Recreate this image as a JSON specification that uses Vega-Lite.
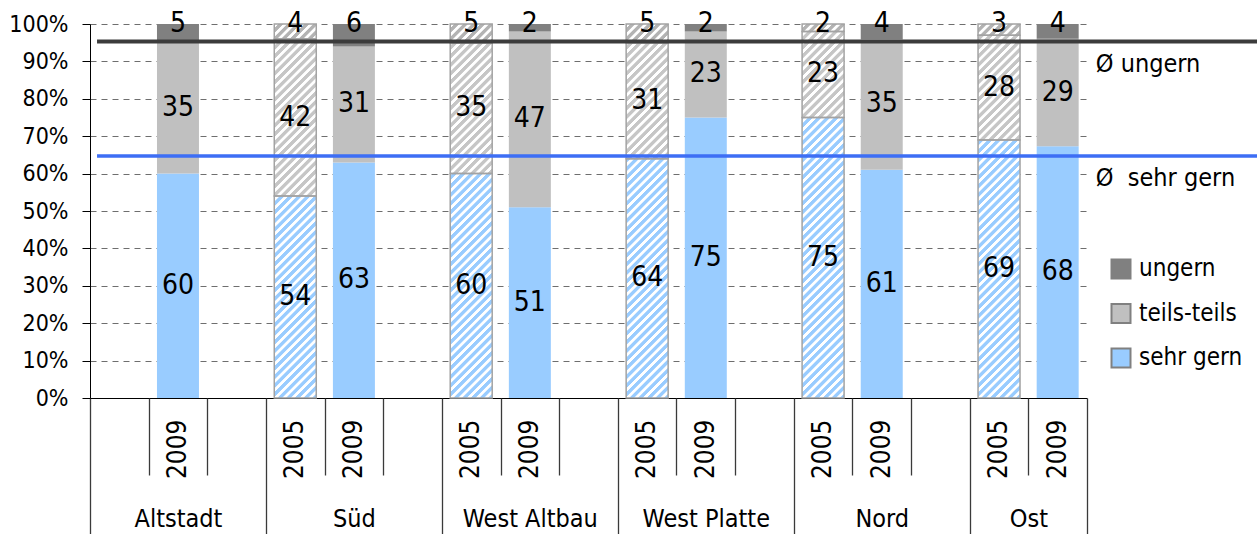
{
  "$schema": "https://vega.github.io/schema/vega-lite/v6.json",
  "width": 997,
  "height": 374,
  "autosize": {"type": "none"},
  "padding": {"left": 90, "top": 24, "right": 170, "bottom": 136},
  "config": {
    "view": {"stroke": null},
    "font": "Liberation Sans Narrow, DejaVu Sans Condensed, sans-serif",
    "axis": {"labelColor": "black", "labelFont": "Liberation Sans Narrow, DejaVu Sans Condensed, sans-serif"},
    "text": {"font": "Liberation Sans Narrow, DejaVu Sans Condensed, sans-serif", "color": "black"}
  },
  "data": {
    "values": [
      {"bezirk": "Altstadt", "jahr": "2009", "slot": "Altstadt 2009", "kat": "sehr gern", "v": 60},
      {"bezirk": "Altstadt", "jahr": "2009", "slot": "Altstadt 2009", "kat": "teils-teils", "v": 35},
      {"bezirk": "Altstadt", "jahr": "2009", "slot": "Altstadt 2009", "kat": "ungern", "v": 5},
      {"bezirk": "Süd", "jahr": "2005", "slot": "Süd 2005", "kat": "sehr gern", "v": 54},
      {"bezirk": "Süd", "jahr": "2005", "slot": "Süd 2005", "kat": "teils-teils", "v": 42},
      {"bezirk": "Süd", "jahr": "2005", "slot": "Süd 2005", "kat": "ungern", "v": 4},
      {"bezirk": "Süd", "jahr": "2009", "slot": "Süd 2009", "kat": "sehr gern", "v": 63},
      {"bezirk": "Süd", "jahr": "2009", "slot": "Süd 2009", "kat": "teils-teils", "v": 31},
      {"bezirk": "Süd", "jahr": "2009", "slot": "Süd 2009", "kat": "ungern", "v": 6},
      {"bezirk": "West Altbau", "jahr": "2005", "slot": "West Altbau 2005", "kat": "sehr gern", "v": 60},
      {"bezirk": "West Altbau", "jahr": "2005", "slot": "West Altbau 2005", "kat": "teils-teils", "v": 35},
      {"bezirk": "West Altbau", "jahr": "2005", "slot": "West Altbau 2005", "kat": "ungern", "v": 5},
      {"bezirk": "West Altbau", "jahr": "2009", "slot": "West Altbau 2009", "kat": "sehr gern", "v": 51},
      {"bezirk": "West Altbau", "jahr": "2009", "slot": "West Altbau 2009", "kat": "teils-teils", "v": 47},
      {"bezirk": "West Altbau", "jahr": "2009", "slot": "West Altbau 2009", "kat": "ungern", "v": 2},
      {"bezirk": "West Platte", "jahr": "2005", "slot": "West Platte 2005", "kat": "sehr gern", "v": 64},
      {"bezirk": "West Platte", "jahr": "2005", "slot": "West Platte 2005", "kat": "teils-teils", "v": 31},
      {"bezirk": "West Platte", "jahr": "2005", "slot": "West Platte 2005", "kat": "ungern", "v": 5},
      {"bezirk": "West Platte", "jahr": "2009", "slot": "West Platte 2009", "kat": "sehr gern", "v": 75},
      {"bezirk": "West Platte", "jahr": "2009", "slot": "West Platte 2009", "kat": "teils-teils", "v": 23},
      {"bezirk": "West Platte", "jahr": "2009", "slot": "West Platte 2009", "kat": "ungern", "v": 2},
      {"bezirk": "Nord", "jahr": "2005", "slot": "Nord 2005", "kat": "sehr gern", "v": 75},
      {"bezirk": "Nord", "jahr": "2005", "slot": "Nord 2005", "kat": "teils-teils", "v": 23},
      {"bezirk": "Nord", "jahr": "2005", "slot": "Nord 2005", "kat": "ungern", "v": 2},
      {"bezirk": "Nord", "jahr": "2009", "slot": "Nord 2009", "kat": "sehr gern", "v": 61},
      {"bezirk": "Nord", "jahr": "2009", "slot": "Nord 2009", "kat": "teils-teils", "v": 35},
      {"bezirk": "Nord", "jahr": "2009", "slot": "Nord 2009", "kat": "ungern", "v": 4},
      {"bezirk": "Ost", "jahr": "2005", "slot": "Ost 2005", "kat": "sehr gern", "v": 69},
      {"bezirk": "Ost", "jahr": "2005", "slot": "Ost 2005", "kat": "teils-teils", "v": 28},
      {"bezirk": "Ost", "jahr": "2005", "slot": "Ost 2005", "kat": "ungern", "v": 3},
      {"bezirk": "Ost", "jahr": "2009", "slot": "Ost 2009", "kat": "sehr gern", "v": 68},
      {"bezirk": "Ost", "jahr": "2009", "slot": "Ost 2009", "kat": "teils-teils", "v": 29},
      {"bezirk": "Ost", "jahr": "2009", "slot": "Ost 2009", "kat": "ungern", "v": 4}
    ]
  },
  "layer": [
    {
      "layer": [
        {
          "mark": {"type": "bar"},
          "encoding": {
            "x": {
              "field": "slot", "type": "nominal",
              "scale": {
                "domain": ["Altstadt 2005", "Altstadt 2009", "·1", "Süd 2005", "Süd 2009", "·2", "West Altbau 2005", "West Altbau 2009", "·3", "West Platte 2005", "West Platte 2009", "·4", "Nord 2005", "Nord 2009", "·5", "Ost 2005", "Ost 2009"],
                "paddingInner": 0.284, "paddingOuter": 0.142
              },
              "axis": {
                "orient": "bottom", "title": null, "ticks": false, "grid": false,
                "domainColor": "black", "domainWidth": 1.2,
                "labelAngle": 270, "labelPadding": 21, "labelFontSize": 26, "labelOverlap": false,
                "labelExpr": "length(datum.value) < 5 || datum.value == 'Altstadt 2005' ? '' : slice(datum.value, -4)"
              }
            },
            "y": {
              "field": "v", "type": "quantitative", "stack": "normalize",
              "scale": {"domain": [0, 1], "nice": false},
              "axis": {
                "title": null, "values": [0, 0.1, 0.2, 0.3, 0.4, 0.5, 0.6, 0.7, 0.8, 0.9, 1],
                "format": ".0%", "grid": true, "gridDash": [6, 5], "gridColor": "#6e6e6e",
                "domainColor": "black", "tickColor": "black", "tickSize": 8,
                "labelFontSize": 23, "labelPadding": 14, "labelOverlap": false
              }
            },
            "order": {"field": "kat", "sort": "ascending"},
            "color": {
              "field": "kat", "type": "nominal",
              "condition": [
                {"test": "datum.jahr == '2005' && datum.kat == 'ungern'", "value": "#b3b3b3"},
                {"test": "datum.jahr == '2005' && datum.kat == 'teils-teils'", "value": "#c6c6c6"}
              ],
              "scale": {"domain": ["ungern", "teils-teils", "sehr gern"], "range": ["#808080", "#c0c0c0", "#99ccff"]},
              "legend": {
                "orient": "none", "legendX": 1019, "legendY": 233, "title": null, "padding": 0,
                "symbolType": "square", "symbolSize": 361,
                "symbolStrokeColor": "#808080", "symbolStrokeWidth": 2,
                "labelFontSize": 24, "labelOffset": 6, "rowPadding": 16.5, "labelColor": "black",
                "labelFont": "Liberation Sans Narrow, DejaVu Sans Condensed, sans-serif"
              }
            }
          }
        },
        {
          "transform": [{"filter": "datum.jahr == '2005' && datum.kat == 'sehr gern'"}],
          "mark": {
            "type": "bar",
            "fill": {
              "gradient": "linear", "x1": 0, "y1": 0, "x2": 0.12335, "y2": 1.09844,
              "stops": [
                {"offset": 0, "color": "#fff0"}, {"offset": 0.00208, "color": "#fff"}, {"offset": 0.00938, "color": "#fff"}, {"offset": 0.01146, "color": "#fff0"},
                {"offset": 0.02083, "color": "#fff0"}, {"offset": 0.02292, "color": "#fff"}, {"offset": 0.03021, "color": "#fff"}, {"offset": 0.03229, "color": "#fff0"},
                {"offset": 0.04167, "color": "#fff0"}, {"offset": 0.04375, "color": "#fff"}, {"offset": 0.05104, "color": "#fff"}, {"offset": 0.05313, "color": "#fff0"},
                {"offset": 0.0625, "color": "#fff0"}, {"offset": 0.06458, "color": "#fff"}, {"offset": 0.07188, "color": "#fff"}, {"offset": 0.07396, "color": "#fff0"},
                {"offset": 0.08333, "color": "#fff0"}, {"offset": 0.08542, "color": "#fff"}, {"offset": 0.09271, "color": "#fff"}, {"offset": 0.09479, "color": "#fff0"},
                {"offset": 0.10417, "color": "#fff0"}, {"offset": 0.10625, "color": "#fff"}, {"offset": 0.11354, "color": "#fff"}, {"offset": 0.11563, "color": "#fff0"},
                {"offset": 0.125, "color": "#fff0"}, {"offset": 0.12708, "color": "#fff"}, {"offset": 0.13438, "color": "#fff"}, {"offset": 0.13646, "color": "#fff0"},
                {"offset": 0.14583, "color": "#fff0"}, {"offset": 0.14792, "color": "#fff"}, {"offset": 0.15521, "color": "#fff"}, {"offset": 0.15729, "color": "#fff0"},
                {"offset": 0.16667, "color": "#fff0"}, {"offset": 0.16875, "color": "#fff"}, {"offset": 0.17604, "color": "#fff"}, {"offset": 0.17813, "color": "#fff0"},
                {"offset": 0.1875, "color": "#fff0"}, {"offset": 0.18958, "color": "#fff"}, {"offset": 0.19688, "color": "#fff"}, {"offset": 0.19896, "color": "#fff0"},
                {"offset": 0.20833, "color": "#fff0"}, {"offset": 0.21042, "color": "#fff"}, {"offset": 0.21771, "color": "#fff"}, {"offset": 0.21979, "color": "#fff0"},
                {"offset": 0.22917, "color": "#fff0"}, {"offset": 0.23125, "color": "#fff"}, {"offset": 0.23854, "color": "#fff"}, {"offset": 0.24063, "color": "#fff0"},
                {"offset": 0.25, "color": "#fff0"}, {"offset": 0.25208, "color": "#fff"}, {"offset": 0.25938, "color": "#fff"}, {"offset": 0.26146, "color": "#fff0"},
                {"offset": 0.27083, "color": "#fff0"}, {"offset": 0.27292, "color": "#fff"}, {"offset": 0.28021, "color": "#fff"}, {"offset": 0.28229, "color": "#fff0"},
                {"offset": 0.29167, "color": "#fff0"}, {"offset": 0.29375, "color": "#fff"}, {"offset": 0.30104, "color": "#fff"}, {"offset": 0.30313, "color": "#fff0"},
                {"offset": 0.3125, "color": "#fff0"}, {"offset": 0.31458, "color": "#fff"}, {"offset": 0.32188, "color": "#fff"}, {"offset": 0.32396, "color": "#fff0"},
                {"offset": 0.33333, "color": "#fff0"}, {"offset": 0.33542, "color": "#fff"}, {"offset": 0.34271, "color": "#fff"}, {"offset": 0.34479, "color": "#fff0"},
                {"offset": 0.35417, "color": "#fff0"}, {"offset": 0.35625, "color": "#fff"}, {"offset": 0.36354, "color": "#fff"}, {"offset": 0.36563, "color": "#fff0"},
                {"offset": 0.375, "color": "#fff0"}, {"offset": 0.37708, "color": "#fff"}, {"offset": 0.38438, "color": "#fff"}, {"offset": 0.38646, "color": "#fff0"},
                {"offset": 0.39583, "color": "#fff0"}, {"offset": 0.39792, "color": "#fff"}, {"offset": 0.40521, "color": "#fff"}, {"offset": 0.40729, "color": "#fff0"},
                {"offset": 0.41667, "color": "#fff0"}, {"offset": 0.41875, "color": "#fff"}, {"offset": 0.42604, "color": "#fff"}, {"offset": 0.42813, "color": "#fff0"},
                {"offset": 0.4375, "color": "#fff0"}, {"offset": 0.43958, "color": "#fff"}, {"offset": 0.44688, "color": "#fff"}, {"offset": 0.44896, "color": "#fff0"},
                {"offset": 0.45833, "color": "#fff0"}, {"offset": 0.46042, "color": "#fff"}, {"offset": 0.46771, "color": "#fff"}, {"offset": 0.46979, "color": "#fff0"},
                {"offset": 0.47917, "color": "#fff0"}, {"offset": 0.48125, "color": "#fff"}, {"offset": 0.48854, "color": "#fff"}, {"offset": 0.49063, "color": "#fff0"},
                {"offset": 0.5, "color": "#fff0"}, {"offset": 0.50208, "color": "#fff"}, {"offset": 0.50938, "color": "#fff"}, {"offset": 0.51146, "color": "#fff0"},
                {"offset": 0.52083, "color": "#fff0"}, {"offset": 0.52292, "color": "#fff"}, {"offset": 0.53021, "color": "#fff"}, {"offset": 0.53229, "color": "#fff0"},
                {"offset": 0.54167, "color": "#fff0"}, {"offset": 0.54375, "color": "#fff"}, {"offset": 0.55104, "color": "#fff"}, {"offset": 0.55313, "color": "#fff0"},
                {"offset": 0.5625, "color": "#fff0"}, {"offset": 0.56458, "color": "#fff"}, {"offset": 0.57188, "color": "#fff"}, {"offset": 0.57396, "color": "#fff0"},
                {"offset": 0.58333, "color": "#fff0"}, {"offset": 0.58542, "color": "#fff"}, {"offset": 0.59271, "color": "#fff"}, {"offset": 0.59479, "color": "#fff0"},
                {"offset": 0.60417, "color": "#fff0"}, {"offset": 0.60625, "color": "#fff"}, {"offset": 0.61354, "color": "#fff"}, {"offset": 0.61563, "color": "#fff0"},
                {"offset": 0.625, "color": "#fff0"}, {"offset": 0.62708, "color": "#fff"}, {"offset": 0.63438, "color": "#fff"}, {"offset": 0.63646, "color": "#fff0"},
                {"offset": 0.64583, "color": "#fff0"}, {"offset": 0.64792, "color": "#fff"}, {"offset": 0.65521, "color": "#fff"}, {"offset": 0.65729, "color": "#fff0"},
                {"offset": 0.66667, "color": "#fff0"}, {"offset": 0.66875, "color": "#fff"}, {"offset": 0.67604, "color": "#fff"}, {"offset": 0.67813, "color": "#fff0"},
                {"offset": 0.6875, "color": "#fff0"}, {"offset": 0.68958, "color": "#fff"}, {"offset": 0.69688, "color": "#fff"}, {"offset": 0.69896, "color": "#fff0"},
                {"offset": 0.70833, "color": "#fff0"}, {"offset": 0.71042, "color": "#fff"}, {"offset": 0.71771, "color": "#fff"}, {"offset": 0.71979, "color": "#fff0"},
                {"offset": 0.72917, "color": "#fff0"}, {"offset": 0.73125, "color": "#fff"}, {"offset": 0.73854, "color": "#fff"}, {"offset": 0.74063, "color": "#fff0"},
                {"offset": 0.75, "color": "#fff0"}, {"offset": 0.75208, "color": "#fff"}, {"offset": 0.75938, "color": "#fff"}, {"offset": 0.76146, "color": "#fff0"},
                {"offset": 0.77083, "color": "#fff0"}, {"offset": 0.77292, "color": "#fff"}, {"offset": 0.78021, "color": "#fff"}, {"offset": 0.78229, "color": "#fff0"},
                {"offset": 0.79167, "color": "#fff0"}, {"offset": 0.79375, "color": "#fff"}, {"offset": 0.80104, "color": "#fff"}, {"offset": 0.80313, "color": "#fff0"},
                {"offset": 0.8125, "color": "#fff0"}, {"offset": 0.81458, "color": "#fff"}, {"offset": 0.82188, "color": "#fff"}, {"offset": 0.82396, "color": "#fff0"},
                {"offset": 0.83333, "color": "#fff0"}, {"offset": 0.83542, "color": "#fff"}, {"offset": 0.84271, "color": "#fff"}, {"offset": 0.84479, "color": "#fff0"},
                {"offset": 0.85417, "color": "#fff0"}, {"offset": 0.85625, "color": "#fff"}, {"offset": 0.86354, "color": "#fff"}, {"offset": 0.86563, "color": "#fff0"},
                {"offset": 0.875, "color": "#fff0"}, {"offset": 0.87708, "color": "#fff"}, {"offset": 0.88438, "color": "#fff"}, {"offset": 0.88646, "color": "#fff0"},
                {"offset": 0.89583, "color": "#fff0"}, {"offset": 0.89792, "color": "#fff"}, {"offset": 0.90521, "color": "#fff"}, {"offset": 0.90729, "color": "#fff0"},
                {"offset": 0.91667, "color": "#fff0"}, {"offset": 0.91875, "color": "#fff"}, {"offset": 0.92604, "color": "#fff"}, {"offset": 0.92813, "color": "#fff0"},
                {"offset": 0.9375, "color": "#fff0"}, {"offset": 0.93958, "color": "#fff"}, {"offset": 0.94688, "color": "#fff"}, {"offset": 0.94896, "color": "#fff0"},
                {"offset": 0.95833, "color": "#fff0"}, {"offset": 0.96042, "color": "#fff"}, {"offset": 0.96771, "color": "#fff"}, {"offset": 0.96979, "color": "#fff0"},
                {"offset": 0.97917, "color": "#fff0"}, {"offset": 0.98125, "color": "#fff"}, {"offset": 0.98854, "color": "#fff"}, {"offset": 0.99063, "color": "#fff0"},
                {"offset": 1, "color": "#fff0"}
              ]
            }
          },
          "encoding": {
            "x": {"field": "slot", "type": "nominal"},
            "y": {
              "datum": 0, "type": "quantitative",
              "axis": {
                "title": null, "values": [0, 0.1, 0.2, 0.3, 0.4, 0.5, 0.6, 0.7, 0.8, 0.9, 1],
                "format": ".0%", "grid": true, "gridDash": [6, 5], "gridColor": "#6e6e6e",
                "domainColor": "black", "tickColor": "black", "tickSize": 8,
                "labelFontSize": 23, "labelPadding": 14, "labelOverlap": false
              }
            },
            "y2": {"datum": 1}
          }
        },
        {
          "transform": [{"filter": "datum.jahr == '2005'"}],
          "mark": {"type": "bar", "fill": null, "stroke": "#a3a3a3", "strokeWidth": 1.5},
          "encoding": {
            "x": {"field": "slot", "type": "nominal"},
            "y": {
              "field": "v", "type": "quantitative", "stack": "normalize",
              "axis": {
                "title": null, "values": [0, 0.1, 0.2, 0.3, 0.4, 0.5, 0.6, 0.7, 0.8, 0.9, 1],
                "format": ".0%", "grid": true, "gridDash": [6, 5], "gridColor": "#6e6e6e",
                "domainColor": "black", "tickColor": "black", "tickSize": 8,
                "labelFontSize": 23, "labelPadding": 14, "labelOverlap": false
              }
            },
            "detail": {"field": "kat"},
            "order": {"field": "kat", "sort": "ascending"}
          }
        },
        {
          "mark": {"type": "text", "fontSize": 28, "baseline": "middle", "align": "center"},
          "encoding": {
            "x": {"field": "slot", "type": "nominal"},
            "y": {
              "field": "v", "type": "quantitative", "stack": "normalize", "bandPosition": 0.5,
              "axis": {
                "title": null, "values": [0, 0.1, 0.2, 0.3, 0.4, 0.5, 0.6, 0.7, 0.8, 0.9, 1],
                "format": ".0%", "grid": true, "gridDash": [6, 5], "gridColor": "#6e6e6e",
                "domainColor": "black", "tickColor": "black", "tickSize": 8,
                "labelFontSize": 23, "labelPadding": 14, "labelOverlap": false
              }
            },
            "detail": {"field": "kat"},
            "order": {"field": "kat", "sort": "ascending"},
            "text": {"condition": {"test": "datum.kat == 'ungern'", "value": ""}, "field": "v", "type": "quantitative"}
          }
        },
        {
          "mark": {"type": "text", "fontSize": 28, "baseline": "middle", "align": "center"},
          "encoding": {
            "x": {"field": "slot", "type": "nominal"},
            "y": {
              "field": "v", "type": "quantitative", "stack": "normalize",
              "axis": {
                "title": null, "values": [0, 0.1, 0.2, 0.3, 0.4, 0.5, 0.6, 0.7, 0.8, 0.9, 1],
                "format": ".0%", "grid": true, "gridDash": [6, 5], "gridColor": "#6e6e6e",
                "domainColor": "black", "tickColor": "black", "tickSize": 8,
                "labelFontSize": 23, "labelPadding": 14, "labelOverlap": false
              }
            },
            "detail": {"field": "kat"},
            "order": {"field": "kat", "sort": "ascending"},
            "text": {"condition": {"test": "datum.kat != 'ungern'", "value": ""}, "field": "v", "type": "quantitative"}
          }
        }
      ]
    },
    {
      "data": {"values": [
        {"name": "Ø ungern", "v": 0.953},
        {"name": "Ø\u00a0 sehr gern", "v": 0.647}
      ]},
      "layer": [
        {
          "mark": {"type": "rule"},
          "encoding": {
            "x": {
              "datum": 0.12, "type": "quantitative",
              "scale": {"domain": [0, 17], "nice": false, "zero": false},
              "axis": {
                "orient": "bottom", "title": null, "values": [0, 1, 2, 3, 4, 5, 6, 7, 8, 9, 10, 11, 12, 13, 14, 15, 16, 17],
                "labels": false, "domain": false, "grid": false,
                "tickColor": "#3a3a3a", "tickWidth": 1.3,
                "tickSize": {"condition": {"test": "indexof([0, 3, 6, 9, 12, 15, 17], datum.value) >= 0", "value": 136}, "value": 77}
              }
            },
            "x2": {"datum": 19.9},
            "y": {
              "field": "v", "type": "quantitative",
              "axis": {
                "title": null, "values": [0, 0.1, 0.2, 0.3, 0.4, 0.5, 0.6, 0.7, 0.8, 0.9, 1],
                "format": ".0%", "grid": true, "gridDash": [6, 5], "gridColor": "#6e6e6e",
                "domainColor": "black", "tickColor": "black", "tickSize": 8,
                "labelFontSize": 23, "labelPadding": 14, "labelOverlap": false
              }
            },
            "color": {"condition": {"test": "datum.name == 'Ø ungern'", "value": "#3c3c3c"}, "value": "#3d6ef5"},
            "strokeWidth": {"condition": {"test": "datum.name == 'Ø ungern'", "value": 4}, "value": 3.5}
          }
        },
        {
          "mark": {"type": "text", "align": "left", "baseline": "middle", "dy": 22, "fontSize": 25},
          "encoding": {
            "x": {"datum": 17.15, "type": "quantitative"},
            "y": {
              "field": "v", "type": "quantitative",
              "axis": {
                "title": null, "values": [0, 0.1, 0.2, 0.3, 0.4, 0.5, 0.6, 0.7, 0.8, 0.9, 1],
                "format": ".0%", "grid": true, "gridDash": [6, 5], "gridColor": "#6e6e6e",
                "domainColor": "black", "tickColor": "black", "tickSize": 8,
                "labelFontSize": 23, "labelPadding": 14, "labelOverlap": false
              }
            },
            "text": {"field": "name"}
          }
        }
      ]
    },
    {
      "transform": [{"filter": "datum.kat == 'ungern' && datum.jahr == '2009'"}],
      "mark": {"type": "rule", "opacity": 0},
      "encoding": {
        "x": {
          "datum": 0, "type": "quantitative",
          "scale": {"domain": [0, 17], "nice": false, "zero": false},
          "axis": {
            "orient": "bottom", "title": null, "values": [1.5, 4.5, 7.5, 10.5, 13.5, 16],
            "ticks": false, "domain": false, "grid": false,
            "labelFontSize": 25, "labelBaseline": "middle", "labelPadding": 120,
            "labelOverlap": false, "labelFlush": false,
            "labelExpr": "datum.value == 1.5 ? 'Altstadt' : datum.value == 4.5 ? 'Süd' : datum.value == 7.5 ? 'West Altbau' : datum.value == 10.5 ? 'West Platte' : datum.value == 13.5 ? 'Nord' : 'Ost'"
          }
        }
      }
    }
  ],
  "resolve": {"scale": {"x": "independent"}, "axis": {"x": "independent"}}
}
